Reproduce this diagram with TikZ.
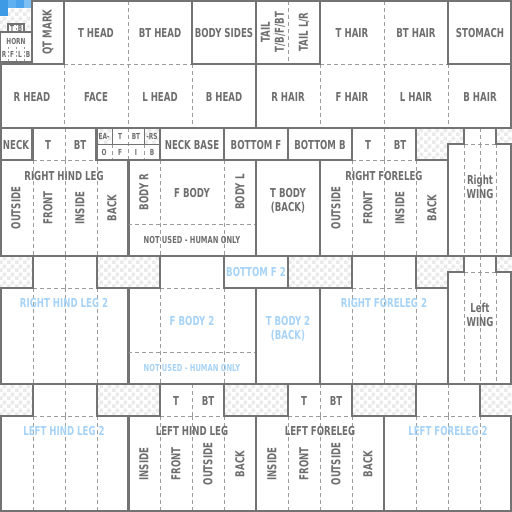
\documentclass[tikz,border=0pt]{standalone}
\usepackage{fontspec}
\newfontfamily\lbl{DejaVu Sans}[FakeStretch=0.7]
\usetikzlibrary{patterns}
\definecolor{lc}{HTML}{737373}
\definecolor{dc}{HTML}{9C9C9C}
\definecolor{tc}{HTML}{6E6E6E}
\definecolor{bc}{HTML}{A6D3F7}
\definecolor{cc}{HTML}{EAEAEA}
\definecolor{bA}{HTML}{3F9AE6}
\definecolor{bB}{HTML}{5FB0F0}
\definecolor{bC}{HTML}{4AA3EC}
\definecolor{bD}{HTML}{7EC0F4}
\pgfdeclarepatternformonly{chk}{\pgfpointorigin}{\pgfqpoint{8pt}{8pt}}{\pgfqpoint{8pt}{8pt}}{%
  \pgfpathrectangle{\pgfpointorigin}{\pgfqpoint{4pt}{4pt}}%
  \pgfpathrectangle{\pgfqpoint{4pt}{4pt}}{\pgfqpoint{4pt}{4pt}}%
  \pgfusepath{fill}}
\tikzset{
  box/.style={draw=lc, line width=2pt},
  tbox/.style={draw=lc, line width=1.2pt},
  dsh/.style={draw=dc, line width=1pt, dash pattern=on 4pt off 3pt},
  lab/.style={text=tc, font=\lbl\bfseries\fontsize{12.3}{14}\selectfont, inner sep=0pt, align=center},
  blab/.style={lab, text=bc},
  sml/.style={text=tc, font=\lbl\bfseries\fontsize{9.6}{11}\selectfont, inner sep=0pt},
  bsml/.style={sml, text=bc},
  tny/.style={text=tc, font=\lbl\bfseries\fontsize{8.3}{9}\selectfont, inner sep=0pt},
  chkfill/.style={pattern=chk, pattern color=cc},
  legpic/.pic={
    \draw[dsh] (64,0)--(64,32) (32,32)--(96,32) (32,32)--(32,128) (64,32)--(64,128) (96,32)--(96,128);
    \draw[box] (32,0)--(96,0)--(96,32)--(128,32)--(128,128)--(0,128)--(0,32)--(32,32)--cycle;
  },
  wingpic/.pic={
    \draw[dsh] (32,0)--(32,16) (16,16)--(48,16) (16,16)--(16,128) (32,16)--(32,128) (48,16)--(48,128);
    \draw[box] (16,0)--(48,0)--(48,16)--(63,16)--(63,128)--(0,128)--(0,16)--(16,16)--cycle;
  }
}
\begin{document}
\begin{tikzpicture}[x=1pt,y=-1pt]
\useasboundingbox (0,0) rectangle (512,512);
\fill[white] (0,0) rectangle (512,512);
% checker areas
\path[chkfill] (0,0) rectangle (32,32);
\path[chkfill] (96,128) rectangle (112,144);
\path[chkfill] (144,128) rectangle (160,144);
\path[chkfill] (416,128) rectangle (464,144);
\path[chkfill] (416,144) rectangle (448,160);
\path[chkfill] (496,128) rectangle (512,144);
\path[chkfill] (0,256) rectangle (32,288);
\path[chkfill] (96,256) rectangle (160,288);
\path[chkfill] (288,256) rectangle (352,288);
\path[chkfill] (416,256) rectangle (448,288);
\path[chkfill] (448,256) rectangle (464,272);
\path[chkfill] (496,256) rectangle (512,272);
\path[chkfill] (0,384) rectangle (32,416);
\path[chkfill] (96,384) rectangle (160,416);
\path[chkfill] (224,384) rectangle (288,416);
\path[chkfill] (352,384) rectangle (416,416);
\path[chkfill] (480,384) rectangle (512,416);
% blue texels
\fill[bA] (0,0) rectangle (8,8);
\fill[bB] (8,0) rectangle (16,8);
\fill[bC] (16,0) rectangle (24,8);
\fill[bD] (24,0) rectangle (32,8);
\fill[bA] (0,8) rectangle (8,16);
% horn
\fill[white] (8,24) rectangle (24,32);
\fill[white] (0,32) rectangle (32,62);
\draw[dsh, line width=0.8pt, dash pattern=on 2pt off 2pt] (16,24)--(16,32) (8,47)--(8,62) (16,47)--(16,62) (24,47)--(24,62);
\draw[tbox] (8,24) rectangle (24,32);
\draw[tbox] (0.6,32) rectangle (32,62);
% head and hair dashed
\draw[dsh] (128,1)--(128,128) (64,64)--(64,128) (192,64)--(192,128) (64,64)--(192,64);
\draw[dsh] (384,1)--(384,128) (320,64)--(320,128) (448,64)--(448,128) (320,64)--(448,64);
\draw[dsh] (288,1)--(288,64);
% head and hair solid
\draw[box] (64,1)--(192,1)--(192,64)--(256,64)--(256,128)--(1,128)--(1,64)--(64,64)--cycle;
\draw[box] (32,1) rectangle (64,64);
\draw[box] (192,1) rectangle (256,64);
\draw[box] (256,1) rectangle (320,64);
\draw[box] (320,1)--(448,1)--(448,64)--(511,64)--(511,128)--(256,128)--(256,64)--(320,64)--cycle;
\draw[box] (448,1) rectangle (511,64);
% neck row
\draw[box] (1,128) rectangle (32,160);
\draw[box] (160,128) rectangle (224,160);
\draw[box] (224,128) rectangle (288,160);
\draw[box] (288,128) rectangle (352,160);
% ears
\draw[dsh] (128,128)--(128,160) (112,144)--(112,160) (144,144)--(144,160);
\draw[draw=lc, line width=1pt] (96,144)--(160,144) (112,128)--(112,144) (144,128)--(144,144);
\draw[box] (96,128) rectangle (160,160);
% legs and wings
\pic at (1,128) {legpic};
\pic at (320,128) {legpic};
\pic at (1,256) {legpic};
\pic at (320,256) {legpic};
\pic at (1,384) {legpic};
\pic at (128,384) {legpic};
\pic at (256,384) {legpic};
\pic at (384,384) {legpic};
\pic at (448,128) {wingpic};
\pic at (448,256) {wingpic};
% outer bottom and right edges of the last row
\draw[box] (1,511)--(511,511) (511,416)--(511,511);
% body 1
\draw[dsh] (160,160)--(160,256) (224,160)--(224,256) (128,224)--(256,224);
\draw[box] (128,160) rectangle (256,256);
\draw[box] (256,160) rectangle (320,256);
% body 2
\draw[dsh] (160,288)--(224,288) (160,288)--(160,384) (224,288)--(224,384) (128,352)--(256,352);
\draw[box] (160,256)--(224,256)--(224,288)--(256,288)--(256,384)--(128,384)--(128,288)--(160,288)--cycle;
\draw[box] (224,256) rectangle (288,288);
\draw[box] (256,288) rectangle (320,384);
% horn labels
\node[tny] (hT) at (12,28) {T};
\node[tny] (hB) at (20,28) {B};
\node[tny] (hHorn) at (16,41) {HORN};
\node[tny] (hR) at (4,54) {R};
\node[tny] (hF) at (12,54) {F};
\node[tny] (hL) at (20,54) {L};
\node[tny] (hB2) at (28,54) {B};
% top rows
\node[lab, rotate=90] (qt) at (48,32) {QT MARK};
\node[lab] (thead) at (96,33) {T HEAD};
\node[lab] (bthead) at (160,33) {BT HEAD};
\node[lab] (bsides) at (224,33) {BODY SIDES};
\node[lab, rotate=90] (tail1) at (273,32) {TAIL\\T/B/F/BT};
\node[lab, rotate=90] (tail2) at (304,32) {TAIL L/R};
\node[lab] (thair) at (352,33) {T HAIR};
\node[lab] (bthair) at (416,33) {BT HAIR};
\node[lab] (stom) at (480,33) {STOMACH};
\node[lab] (rhead) at (32,97) {R HEAD};
\node[lab] (face) at (96,97) {FACE};
\node[lab] (lhead) at (160,97) {L HEAD};
\node[lab] (bhead) at (224,97) {B HEAD};
\node[lab] (rhair) at (288,97) {R HAIR};
\node[lab] (fhair) at (352,97) {F HAIR};
\node[lab] (lhair) at (416,97) {L HAIR};
\node[lab] (bhair) at (480,97) {B HAIR};
% neck row
\node[lab] (neck) at (16,145) {NECK};
\node[lab] (rhlT) at (48,145) {T};
\node[lab] (rhlBT) at (80,145) {BT};
\node[tny] (eA) at (104,136) {EA-};
\node[tny] (eT) at (120,136) {T};
\node[tny] (eBT) at (136,136) {BT};
\node[tny] (eRS) at (152,136) {-RS};
\node[tny] (eO) at (104,152) {O};
\node[tny] (eF) at (120,152) {F};
\node[tny] (eI) at (136,152) {I};
\node[tny] (eB) at (152,152) {B};
\node[lab] (nbase) at (192,145) {NECK BASE};
\node[lab] (botf) at (256,145) {BOTTOM F};
\node[lab] (botb) at (320,145) {BOTTOM B};
\node[lab] (rflT) at (368,145) {T};
\node[lab] (rflBT) at (400,145) {BT};
% right hind leg
\node[lab] (rhl) at (64,176) {RIGHT HIND LEG};
\node[lab, rotate=90] (rhlO) at (16,208) {OUTSIDE};
\node[lab, rotate=90] (rhlF) at (48,208) {FRONT};
\node[lab, rotate=90] (rhlI) at (80,208) {INSIDE};
\node[lab, rotate=90] (rhlB) at (112,208) {BACK};
% body
\node[lab, rotate=90] (bodyr) at (144,192) {BODY R};
\node[lab] (fbody) at (192,193) {F BODY};
\node[lab, rotate=90] (bodyl) at (240,192) {BODY L};
\node[sml] (nu1) at (192,240) {NOT USED - HUMAN ONLY};
\node[lab] (tbody) at (288,201) {T BODY\\(BACK)};
% right foreleg
\node[lab] (rfl) at (384,176) {RIGHT FORELEG};
\node[lab, rotate=90] (rflO) at (336,208) {OUTSIDE};
\node[lab, rotate=90] (rflF) at (368,208) {FRONT};
\node[lab, rotate=90] (rflI) at (400,208) {INSIDE};
\node[lab, rotate=90] (rflB) at (432,208) {BACK};
\node[lab] (rwing) at (480,187) {Right\\WING};
% second layer
\node[blab] (botf2) at (256,272) {BOTTOM F 2};
\node[blab] (rhl2) at (64,303) {RIGHT HIND LEG 2};
\node[blab] (fbody2) at (192,321) {F BODY 2};
\node[bsml] (nu2) at (192,368) {NOT USED - HUMAN ONLY};
\node[blab] (tbody2) at (288,329) {T BODY 2\\(BACK)};
\node[blab] (rfl2) at (384,303) {RIGHT FORELEG 2};
\node[lab] (lwing) at (480,315) {Left\\WING};
% third row
\node[lab] (lhlT) at (176,401) {T};
\node[lab] (lhlBT) at (208,401) {BT};
\node[lab] (lflT) at (304,401) {T};
\node[lab] (lflBT) at (336,401) {BT};
\node[blab] (lhl2) at (64,431) {LEFT HIND LEG 2};
\node[lab] (lhl) at (192,431) {LEFT HIND LEG};
\node[lab, rotate=90] (lhlI) at (144,464) {INSIDE};
\node[lab, rotate=90] (lhlF) at (176,464) {FRONT};
\node[lab, rotate=90] (lhlO) at (208,464) {OUTSIDE};
\node[lab, rotate=90] (lhlB) at (240,464) {BACK};
\node[lab] (lfl) at (320,431) {LEFT FORELEG};
\node[lab, rotate=90] (lflI) at (272,464) {INSIDE};
\node[lab, rotate=90] (lflF) at (304,464) {FRONT};
\node[lab, rotate=90] (lflO) at (336,464) {OUTSIDE};
\node[lab, rotate=90] (lflB) at (368,464) {BACK};
\node[blab] (lfl2) at (448,431) {LEFT FORELEG 2};
\end{tikzpicture}
\end{document}
